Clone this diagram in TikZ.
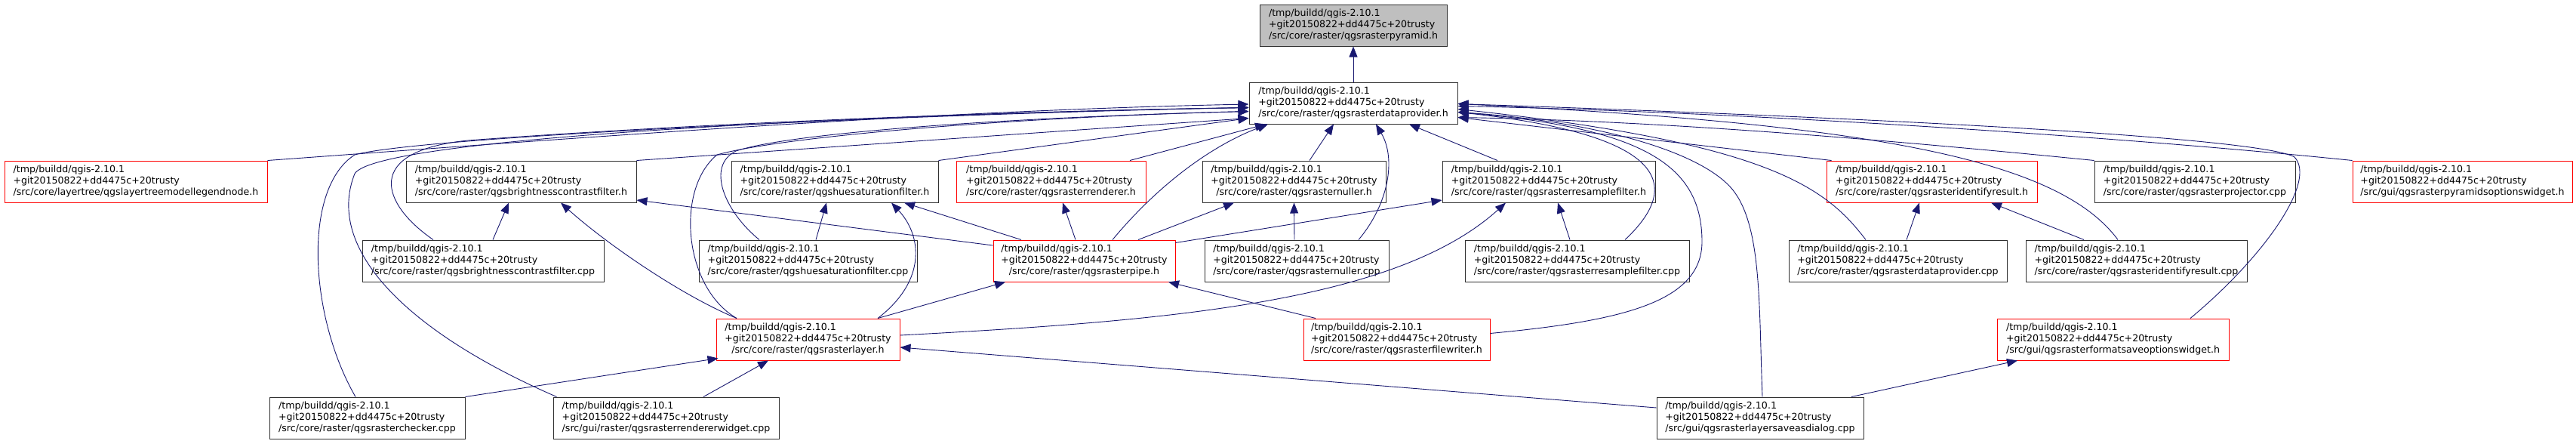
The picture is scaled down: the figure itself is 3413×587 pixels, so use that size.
\documentclass[tikz,border=0pt]{standalone}
\usepackage{fontspec}
\setmainfont{DejaVu Sans}
\usetikzlibrary{arrows.meta}
\definecolor{mblue}{HTML}{191970}
\definecolor{gfill}{HTML}{BFBFBF}
\definecolor{bord}{HTML}{303030}
\newcommand\dlbl[1]{\begin{tabular}{@{}l@{}}/tmp/buildd/qgis-2.10.1\\+git20150822+dd4475c+20trusty\\\multicolumn{1}{@{}c@{}}{#1}\end{tabular}}
\tikzset{
  filenode/.style={draw=bord, line width=1pt, fill=white, rectangle, minimum height=55pt, inner xsep=10pt, inner ysep=0pt, font=\fontsize{12.6}{15}\selectfont, text=black},
  rednode/.style={filenode, draw=red},
  graynode/.style={filenode, fill=gfill},
  dep/.style={draw=mblue, line width=0.9pt, -{Triangle[length=14pt,width=11pt]}}
}
\begin{document}
\begin{tikzpicture}[x=1pt,y=-1pt]
\useasboundingbox (0,0) rectangle (3413,587);
% row 1-2
\node[graynode, minimum width=248pt] (pyr) at (1793,33.5) {\dlbl{/src/core/raster/qgsrasterpyramid.h}};
\node[filenode, minimum width=276pt] (dp) at (1793,136.5) {\dlbl{/src/core/raster/qgsrasterdataprovider.h}};
% row 3
\node[rednode, minimum width=348pt] (lt) at (180,240.5) {\dlbl{/src/core/layertree/qgslayertreemodellegendnode.h}};
\node[filenode, minimum width=305pt] (bh) at (690.5,240.5) {\dlbl{/src/core/raster/qgsbrightnesscontrastfilter.h}};
\node[filenode, minimum width=274pt] (hh) at (1106,240.5) {\dlbl{/src/core/raster/qgshuesaturationfilter.h}};
\node[rednode, minimum width=251pt] (rh) at (1392.5,240.5) {\dlbl{/src/core/raster/qgsrasterrenderer.h}};
\node[filenode, minimum width=243pt] (nh) at (1714.5,240.5) {\dlbl{/src/core/raster/qgsrasternuller.h}};
\node[filenode, minimum width=282pt] (rsh) at (2052,240.5) {\dlbl{/src/core/raster/qgsrasterresamplefilter.h}};
\node[rednode, minimum width=279pt] (irh) at (2559.5,240.5) {\dlbl{/src/core/raster/qgsrasteridentifyresult.h}};
\node[filenode, minimum width=266pt] (pcpp) at (2908,240.5) {\dlbl{/src/core/raster/qgsrasterprojector.cpp}};
\node[rednode, minimum width=291pt] (pow) at (3262.5,240.5) {\dlbl{/src/gui/qgsrasterpyramidsoptionswidget.h}};
% row 4
\node[filenode, minimum width=320pt] (bcpp) at (640,345.5) {\dlbl{/src/core/raster/qgsbrightnesscontrastfilter.cpp}};
\node[filenode, minimum width=289pt] (hcpp) at (1070.5,345.5) {\dlbl{/src/core/raster/qgshuesaturationfilter.cpp}};
\node[rednode, minimum width=241pt] (ph) at (1436.5,345.5) {\dlbl{/src/core/raster/qgsrasterpipe.h}};
\node[filenode, minimum width=244pt] (ncpp) at (1718,345.5) {\dlbl{/src/core/raster/qgsrasternuller.cpp}};
\node[filenode, minimum width=297pt] (rscpp) at (2089.5,345.5) {\dlbl{/src/core/raster/qgsrasterresamplefilter.cpp}};
\node[filenode, minimum width=289pt] (dpcpp) at (2514.5,345.5) {\dlbl{/src/core/raster/qgsrasterdataprovider.cpp}};
\node[filenode, minimum width=293pt] (ircpp) at (2830.5,345.5) {\dlbl{/src/core/raster/qgsrasteridentifyresult.cpp}};
% row 5
\node[rednode, minimum width=243pt] (lh) at (1070.5,449.5) {\dlbl{/src/core/raster/qgsrasterlayer.h}};
\node[rednode, minimum width=247pt] (fwh) at (1850.5,449.5) {\dlbl{/src/core/raster/qgsrasterfilewriter.h}};
\node[rednode, minimum width=307pt] (fsow) at (2799.5,449.5) {\dlbl{/src/gui/qgsrasterformatsaveoptionswidget.h}};
% row 6
\node[filenode, minimum width=259pt] (chk) at (486.5,553.5) {\dlbl{/src/core/raster/qgsrasterchecker.cpp}};
\node[filenode, minimum width=299pt] (rwcpp) at (882.5,553.5) {\dlbl{/src/gui/raster/qgsrasterrendererwidget.cpp}};
\node[filenode, minimum width=274pt] (sad) at (2332,553.5) {\dlbl{/src/gui/qgsrasterlayersaveasdialog.cpp}};

% edges into pyramid
\draw[dep] (dp.north) -- (pyr.south);
% edges into dataprovider.h, left side
\draw[dep] (lt.north east) .. controls (800,180) and (1250,146) .. ([yshift=-1.5pt]dp.west);
\draw[dep] (bh.north east) -- ([yshift=-20pt]dp.west);
\draw[dep] (hh.north east) -- ([yshift=-20pt]dp.west);
\draw[dep] ([xshift=-66pt]bcpp.north) .. controls (505,270) and (480,200) .. (620,186) .. controls (900,165) and (1300,148) .. ([yshift=-6pt]dp.west);
\draw[dep] ([xshift=-15.5pt]chk.north) .. controls (410,420) and (400,250) .. (470,205) .. controls (560,180) and (1250,150) .. ([yshift=-6pt]dp.west);
\draw[dep] ([xshift=-145pt]rwcpp.north) .. controls (540,440) and (430,330) .. (470,230) .. controls (500,180) and (1200,150) .. ([yshift=-6pt]dp.west);
\draw[dep] ([xshift=-64.5pt]hcpp.north) .. controls (960,280) and (935,220) .. (975,200) .. controls (1050,175) and (1350,155) .. ([yshift=-11pt]dp.west);
\draw[dep] ([xshift=-94.5pt]lh.north) .. controls (905,380) and (895,250) .. (950,205) .. controls (1040,180) and (1350,155) .. ([yshift=-11pt]dp.west);
% bottom
\draw[dep] ([xshift=104.5pt]rh.north) -- ([xshift=-116pt]dp.south);
\draw[dep] ([xshift=37.5pt]ph.north) .. controls (1530,250) and (1600,195) .. ([xshift=-113pt]dp.south);
\draw[dep] ([xshift=20.5pt]nh.north) -- ([xshift=-26pt]dp.south);
\draw[dep] ([xshift=82pt]ncpp.north) .. controls (1840,270) and (1850,210) .. ([xshift=30pt]dp.south);
\draw[dep] ([xshift=-68pt]rsh.north) -- ([xshift=74pt]dp.south);
% right side
\draw[dep] ([xshift=63.5pt]rscpp.north) .. controls (2225,250) and (2220,180) .. ([yshift=-12pt]dp.east);
\draw[dep] ([yshift=8pt]fwh.east) .. controls (2150,425) and (2255,400) .. (2255,320) .. controls (2255,220) and (2180,170) .. ([yshift=-12pt]dp.east);
\draw[dep] ([xshift=3pt]sad.north) .. controls (2330,400) and (2335,290) .. (2290,245) .. controls (2240,195) and (2100,160) .. ([yshift=-12pt]dp.east);
\draw[dep] ([xshift=-42.5pt]dpcpp.north) .. controls (2420,250) and (2350,190) .. ([yshift=-8pt]dp.east);
\draw[dep] ([xshift=7pt]irh.north west) -- ([yshift=-19pt]dp.east);
\draw[dep] ([xshift=-24.5pt]ircpp.north) .. controls (2730,215) and (2500,165) .. ([yshift=-1pt]dp.east);
\draw[dep] (pcpp.north west) .. controls (2500,185) and (2200,160) .. ([yshift=-19pt]dp.east);
\draw[dep] (pow.north west) .. controls (2800,180) and (2300,148) .. ([yshift=-4pt]dp.east);
\draw[dep] ([xshift=102.5pt]fsow.north) .. controls (3000,340) and (3070,240) .. (3040,208) .. controls (3000,185) and (2600,160) .. ([yshift=-1pt]dp.east);
% other edges
\draw[dep] ([xshift=13pt]bcpp.north) -- ([xshift=-16.5pt]bh.south);
\draw[dep] ([xshift=-94.5pt]lh.north) .. controls (900,390) and (800,320) .. ([xshift=52.5pt]bh.south);
\draw[dep] ([yshift=20.5pt]ph.west) -- ([yshift=-24.5pt]bh.east);
\draw[dep] ([xshift=10.5pt]hcpp.north) -- ([xshift=-11pt]hh.south);
\draw[dep] ([xshift=-83.5pt]ph.north) -- ([xshift=92pt]hh.south);
\draw[dep] ([xshift=92.5pt]lh.north) .. controls (1230,370) and (1220,310) .. ([xshift=75pt]hh.south);
\draw[dep] ([xshift=-11.5pt]ph.north) -- ([xshift=15.5pt]rh.south);
\draw[dep] ([xshift=71.5pt]ph.north) -- ([xshift=-79.5pt]nh.south);
\draw[dep] ([xshift=-3pt]ncpp.north) -- (nh.south);
\draw[dep] ([yshift=-4pt]ph.north east) -- ([yshift=-24.5pt]rsh.west);
\draw[dep] ([xshift=-9.5pt]rscpp.north) -- ([xshift=12pt]rsh.south);
\draw[dep] ([yshift=5.5pt]lh.east) .. controls (1550,425) and (1850,400) .. ([xshift=-57pt]rsh.south);
\draw[dep] ([xshift=11.5pt]dpcpp.north) -- ([xshift=-16.5pt]irh.south);
\draw[dep] ([xshift=-69.5pt]ircpp.north) -- ([xshift=78.5pt]irh.south);
\draw[dep] ([xshift=92.5pt]lh.north) -- ([xshift=-104.5pt]ph.south);
\draw[dep] ([xshift=-107.5pt]fwh.north) -- ([xshift=111.5pt]ph.south);
\draw[dep] (chk.north east) -- ([xshift=3pt,yshift=3pt]lh.south west);
\draw[dep] ([xshift=49.5pt]rwcpp.north) -- ([xshift=-52.5pt]lh.south);
\draw[dep] ([yshift=13.5pt]sad.west) -- ([yshift=-10.5pt]lh.east);
\draw[dep] ([xshift=121pt]sad.north) -- ([xshift=-126.5pt]fsow.south);
\end{tikzpicture}
\end{document}
